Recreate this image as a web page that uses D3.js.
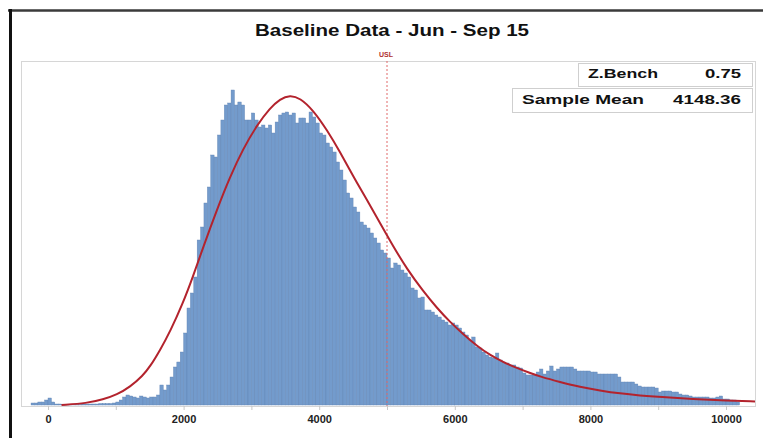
<!DOCTYPE html>
<html>
<head>
<meta charset="utf-8">
<script src="https://cdn.jsdelivr.net/npm/d3@7"></script>
<style>
  body { margin: 0; background: #fff; }
  text { font-family: "Liberation Sans", Arial, sans-serif; }
</style>
</head>
<body>
<div id="chart"></div>
<script>
const w = 763;
const h = 438;

// histogram: bins of 50 starting at -250
const binStart = -250;
const binWidth = 50;
const counts = [
  20, 20, 30, 30, 50, 70, 30, 10, 10, 5,
  5, 5, 5, 5, 5, 10, 10, 10, 10, 10,
  15, 15, 15, 15, 20, 30, 50, 80, 100, 90,
  80, 70, 90, 80, 70, 80, 80, 100, 200, 150,
  200, 280, 380, 430, 530, 720, 970, 1120, 1280, 1650,
  1780, 2020, 2180, 2500, 2480, 2700, 2850, 3000, 3020, 3150,
  3000, 3030, 3000, 2850, 2850, 2920, 2850, 2780, 2800, 2770,
  2800, 2720, 2830, 2900, 2920, 2930, 2900, 2920, 2820, 2870,
  2870, 2820, 2930, 2880, 2820, 2720, 2700, 2620, 2580, 2530,
  2430, 2350, 2250, 2120, 2070, 1980, 1930, 1830, 1800, 1770,
  1720, 1670, 1620, 1550, 1520, 1470, 1370, 1420, 1400, 1350,
  1320, 1280, 1170, 1150, 1070, 1080, 950, 950, 930, 900,
  880, 850, 830, 800, 820, 800, 770, 730, 700, 650,
  680, 580, 570, 530, 500, 480, 470, 520, 450, 430,
  420, 400, 400, 380, 370, 320, 300, 300, 300, 330,
  360, 310, 340, 390, 340, 360, 380, 380, 380, 380,
  360, 340, 340, 340, 340, 330, 330, 310, 310, 310,
  310, 310, 310, 280, 230, 230, 230, 230, 210, 190,
  180, 180, 180, 180, 170, 130, 140, 140, 140, 130,
  130, 110, 100, 100, 90, 80, 80, 80, 80, 80,
  70, 70, 80, 90, 60, 60, 50, 50, 30
];

// fitted distribution curve
const curveX = [200, 575, 811, 1018, 1209, 1400, 1504, 1652, 1799,
  1991, 2139, 2286, 2493, 2684, 2876, 3083, 3274, 3422, 3569,
  3717, 3909, 4115, 4307, 4499, 4705, 4897, 5088, 5295, 5531,
  5737, 5929, 6121, 6327, 6519, 6711, 6917, 7109, 7257, 7552,
  7847, 8142, 8437, 8732, 9027, 9513, 10015, 10428];
const curveY = [0, 18, 55, 105, 180, 295, 383, 548, 732,
  1020, 1286, 1573, 1956, 2281, 2560, 2800, 2970, 3060, 3100,
  3070, 2950, 2750, 2530, 2290, 2050, 1820, 1590, 1360, 1140,
  970, 830, 710, 590, 500, 430, 370, 320, 285, 230,
  180, 145, 115, 95, 80, 60, 45, 35];

const tickValues = [0, 1000, 2000, 3000, 4000, 5000, 6000, 7000, 8000, 9000, 10000];
const usl = 5000;
const title = "Baseline Data - Jun - Sep 15";
const statLabels = ["Z.Bench", "Sample Mean"];
const statValues = ["0.75", "4148.36"];

const plotLeft = 21, plotRight = 755, plotTop = 61, plotBottom = 406;

const x = d3.scaleLinear().domain([0, 10000]).range([48, 726]);
const y = d3.scaleLinear().domain([0, 3430]).range([405, 62]);

const svg = d3.select("#chart").append("svg")
  .attr("width", w)
  .attr("height", h);

svg.append("rect").attr("width", w).attr("height", h).attr("fill", "#fff");

// outer frame (top and left)
svg.append("line")
  .attr("x1", 8).attr("x2", w).attr("y1", 10.5).attr("y2", 10.5)
  .attr("stroke", "#3a3a3a").attr("stroke-width", 2.5);
svg.append("line")
  .attr("x1", 10.5).attr("x2", 10.5).attr("y1", 9).attr("y2", h)
  .attr("stroke", "#111").attr("stroke-width", 3);

svg.append("text")
  .attr("x", 392).attr("y", 36)
  .attr("text-anchor", "middle")
  .attr("font-size", 16).attr("font-weight", "bold")
  .attr("fill", "#111")
  .attr("textLength", 274).attr("lengthAdjust", "spacingAndGlyphs")
  .text(title);

// plot frame
svg.append("rect")
  .attr("x", plotLeft + 0.5).attr("y", plotTop + 0.5)
  .attr("width", plotRight - plotLeft).attr("height", plotBottom - plotTop)
  .attr("fill", "none").attr("stroke", "#d6d6d6");

// bars
svg.append("g").selectAll("rect")
  .data(counts)
  .join("rect")
  .attr("x", (d, i) => x(binStart + i * binWidth))
  .attr("width", (d, i) => x(binStart + (i + 1) * binWidth) - x(binStart + i * binWidth))
  .attr("y", d => y(d))
  .attr("height", d => y(0) - y(d))
  .attr("fill", "#739bcc")
  .attr("stroke", "#6184b3")
  .attr("stroke-width", 0.4);

// USL
svg.append("line")
  .attr("x1", x(usl)).attr("x2", x(usl))
  .attr("y1", plotTop).attr("y2", plotBottom)
  .attr("stroke", "#e06a6a").attr("stroke-width", 1)
  .attr("stroke-dasharray", "2,2");
svg.append("text")
  .attr("x", x(usl) - 1).attr("y", 57)
  .attr("text-anchor", "middle")
  .attr("font-size", 7).attr("font-weight", "bold")
  .attr("fill", "#b03030")
  .text("USL");

// fitted curve
const line = d3.line()
  .x((d, i) => x(curveX[i]))
  .y(d => y(d))
  .curve(d3.curveBasis);
svg.append("path")
  .attr("d", line(curveY))
  .attr("fill", "none")
  .attr("stroke", "#b3232d")
  .attr("stroke-width", 2);

// x axis
const axis = d3.axisBottom(x)
  .tickValues(tickValues)
  .tickSize(4)
  .tickPadding(5)
  .tickFormat(d => d % 2000 === 0 ? d : "");
const ax = svg.append("g")
  .attr("transform", "translate(0," + plotBottom + ")")
  .call(axis);
ax.select(".domain").remove();
ax.selectAll(".tick line").attr("stroke", "#c8c8c8");
ax.selectAll(".tick text")
  .attr("font-family", "Liberation Sans, Arial, sans-serif")
  .attr("font-size", 11).attr("font-weight", "bold")
  .attr("fill", "#222");

// stats boxes
const boxes = [
  {x0: 578, y0: 63, y1: 86},
  {x0: 512, y0: 88, y1: 112}
];
const labelW = [70, 122];
const valueW = [36, 68];
boxes.forEach((b, i) => {
  svg.append("rect")
    .attr("x", b.x0 + 0.5).attr("y", b.y0 + 0.5)
    .attr("width", 752 - b.x0).attr("height", b.y1 - b.y0)
    .attr("fill", "#fff").attr("stroke", "#cfcfcf");
  svg.append("text")
    .attr("x", b.x0 + 10).attr("y", b.y1 - 8)
    .attr("font-size", 12).attr("font-weight", "bold").attr("fill", "#111")
    .attr("textLength", labelW[i]).attr("lengthAdjust", "spacingAndGlyphs")
    .text(statLabels[i]);
  svg.append("text")
    .attr("x", 741 - valueW[i]).attr("y", b.y1 - 8)
    .attr("font-size", 12).attr("font-weight", "bold").attr("fill", "#111")
    .attr("textLength", valueW[i]).attr("lengthAdjust", "spacingAndGlyphs")
    .text(statValues[i]);
});
</script>
</body>
</html>
